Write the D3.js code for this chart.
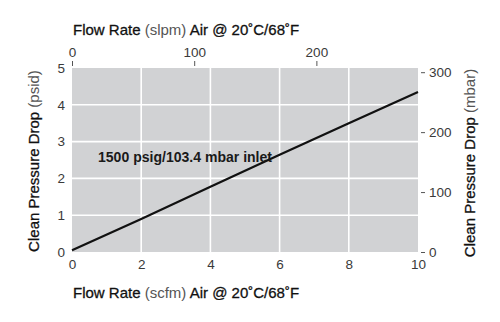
<!DOCTYPE html>
<html><head><meta charset="utf-8">
<script src="https://cdn.jsdelivr.net/npm/d3@7"></script>
<style>
body{margin:0;background:#fff;}
svg text{font-family:"Liberation Sans",Arial,Helvetica,sans-serif;}
</style></head>
<body><svg id="c" width="500" height="322"></svg>
<script>
const flowScfm = [0, 2, 4, 6, 8, 10];
const dropPsid = [0.05, 0.90, 1.77, 2.64, 3.50, 4.35];
const bottomTicks = [0, 2, 4, 6, 8, 10];
const leftTicks = [0, 1, 2, 3, 4, 5];
const topTicks = [0, 100, 200];
const rightTicks = [0, 100, 200, 300];
const curveLabel = "1500 psig/103.4 mbar inlet";

const svg = d3.select("#c");
const L = 72, R = 418, T = 68, B = 252;
const x = d3.scaleLinear().domain([0, 10]).range([L, R]);
const y = d3.scaleLinear().domain([0, 5]).range([B, T]);
const xTop = d3.scaleLinear().domain([0, 283.17]).range([L, R]);
const yRight = d3.scaleLinear().domain([0, 307]).range([B, T]);

svg.append("rect").attr("x", L).attr("y", T).attr("width", R - L).attr("height", B - T).attr("fill", "#d1d2d4");
svg.append("g").selectAll("line").data(bottomTicks.slice(1, -1)).join("line")
  .attr("x1", d => x(d)).attr("x2", d => x(d)).attr("y1", T).attr("y2", B)
  .attr("stroke", "#fff").attr("stroke-width", 1.6);
svg.append("g").selectAll("line").data(leftTicks.slice(1, -1)).join("line")
  .attr("y1", d => y(d)).attr("y2", d => y(d)).attr("x1", L).attr("x2", R)
  .attr("stroke", "#fff").attr("stroke-width", 1.6);

function style(g) {
  g.select(".domain").remove();
  g.selectAll("text").attr("font-size", 13.5).attr("fill", "#3a3a3a")
    .style("font-family", "'Liberation Sans',Arial,sans-serif");
  g.selectAll("line").attr("stroke", "#555");
}
svg.append("g").attr("transform", `translate(0,${B})`)
  .call(d3.axisBottom(x).tickValues(bottomTicks).tickSize(0).tickPadding(7).tickFormat(d3.format("d")))
  .call(style);
svg.append("g").attr("transform", `translate(${L - 1},0)`)
  .call(d3.axisLeft(y).tickValues(leftTicks).tickSize(0).tickPadding(6).tickFormat(d3.format("d")))
  .call(style);
svg.append("g").attr("transform", `translate(0,${T - 2})`)
  .call(d3.axisTop(xTop).tickValues(topTicks).tickSize(5).tickPadding(4).tickFormat(d3.format("d")))
  .call(style);
svg.append("g").attr("transform", `translate(${R + 3},0)`)
  .call(d3.axisRight(yRight).tickValues(rightTicks).tickSize(4).tickPadding(4).tickFormat(d3.format("d")))
  .call(style);

const pts = flowScfm.map((f, i) => [f, dropPsid[i]]);
svg.append("path").datum(pts)
  .attr("d", d3.line().x(d => x(d[0])).y(d => y(d[1])))
  .attr("fill", "none").attr("stroke", "#111").attr("stroke-width", 2.2);

svg.append("text").attr("x", 98).attr("y", 162).attr("font-size", 14.5)
  .style("font-family", "'Liberation Sans Narrow','Arial Narrow',sans-serif")
  .attr("font-weight", "bold").attr("fill", "#1a1a1a").attr("textLength", 174)
  .attr("lengthAdjust", "spacingAndGlyphs")
  .text(curveLabel);

function title(sel, main, paren, tail) {
  const t = sel.append("text").attr("font-size", 15).attr("fill", "#111");
  t.append("tspan").attr("stroke", "#111").attr("stroke-width", 0.3).text(main + " ");
  t.append("tspan").attr("fill", "#555").text(paren);
  if (tail) t.append("tspan").attr("stroke", "#111").attr("stroke-width", 0.3).text(" " + tail);
  return t;
}
title(svg, "Flow Rate", "(slpm)", "Air @ 20˚C/68˚F").attr("x", 73).attr("y", 35);
title(svg, "Flow Rate", "(scfm)", "Air @ 20˚C/68˚F").attr("x", 73).attr("y", 298);
title(svg, "Clean Pressure Drop", "(psid)").attr("text-anchor", "middle")
  .attr("transform", `translate(39,${(T + B) / 2 + 1}) rotate(-90)`);
title(svg, "Clean Pressure Drop", "(mbar)").attr("text-anchor", "middle")
  .attr("transform", `translate(475,${(T + B) / 2 + 3}) rotate(-90)`);
</script></body></html>
